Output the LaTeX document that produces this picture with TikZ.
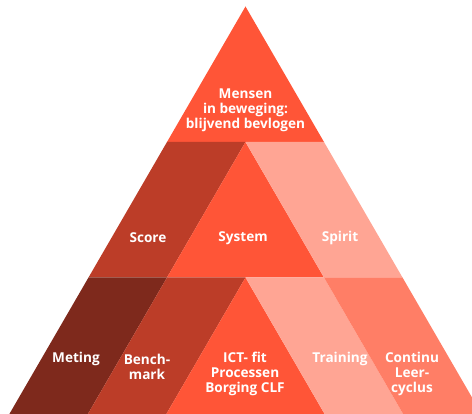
\documentclass[tikz,border=0pt]{standalone}
\usepackage{fontspec}
\setmainfont{Open Sans}
\definecolor{cMain}{HTML}{FF5537}
\definecolor{cDark}{HTML}{BC3D28}
\definecolor{cDarker}{HTML}{7E291C}
\definecolor{cLight}{HTML}{FFA594}
\definecolor{cMid}{HTML}{FF7E66}
\begin{document}
\begin{tikzpicture}[x=1pt,y=-1pt,
  lbl/.style={text=white,font=\fontsize{13.6}{15}\selectfont\bfseries,align=center,inner sep=0pt}]
\useasboundingbox (0,0) rectangle (472,414);
\clip (0,0) rectangle (472,414);
% top tier
\fill[cMain] (245.5,6.5) -- (324,142) -- (167,142) -- cycle;
% middle tier
\fill[cDark] (167,142) -- (245.5,142) -- (167,277.5) -- (88.5,277.5) -- cycle;
\fill[cMain] (245.5,142) -- (324,277.5) -- (167,277.5) -- cycle;
\fill[cLight] (245.5,142) -- (324,142) -- (402.5,277.5) -- (324,277.5) -- cycle;
% bottom tier (extended below the frame)
\fill[cDarker] (88.5,277.5) -- (167,277.5) -- (84.4,420) -- (5.9,420) -- cycle;
\fill[cDark] (167,277.5) -- (245.5,277.5) -- (162.9,420) -- (84.4,420) -- cycle;
\fill[cMain] (245.5,277.5) -- (328.1,420) -- (162.9,420) -- cycle;
\fill[cLight] (245.5,277.5) -- (324,277.5) -- (406.6,420) -- (328.1,420) -- cycle;
\fill[cMid] (324,277.5) -- (402.5,277.5) -- (485.1,420) -- (406.6,420) -- cycle;
% labels
\node[lbl] (mensen) at (245.5,110) {Mensen\\in beweging:\\blijvend bevlogen};
\node[lbl] (score) at (148,238) {Score};
\node[lbl] (system) at (243,238) {System};
\node[lbl] (spirit) at (340,238) {Spirit};
\node[lbl] (meting) at (76,359) {Meting};
\node[lbl] (bench) at (147,366.5) {Bench-\\mark};
\node[lbl] (ict) at (245,374) {ICT- fit\\Processen\\Borging CLF};
\node[lbl] (training) at (340,359) {Training};
\node[lbl] (continu) at (412,374) {Continu\\Leer-\\cyclus};
\end{tikzpicture}
\end{document}
